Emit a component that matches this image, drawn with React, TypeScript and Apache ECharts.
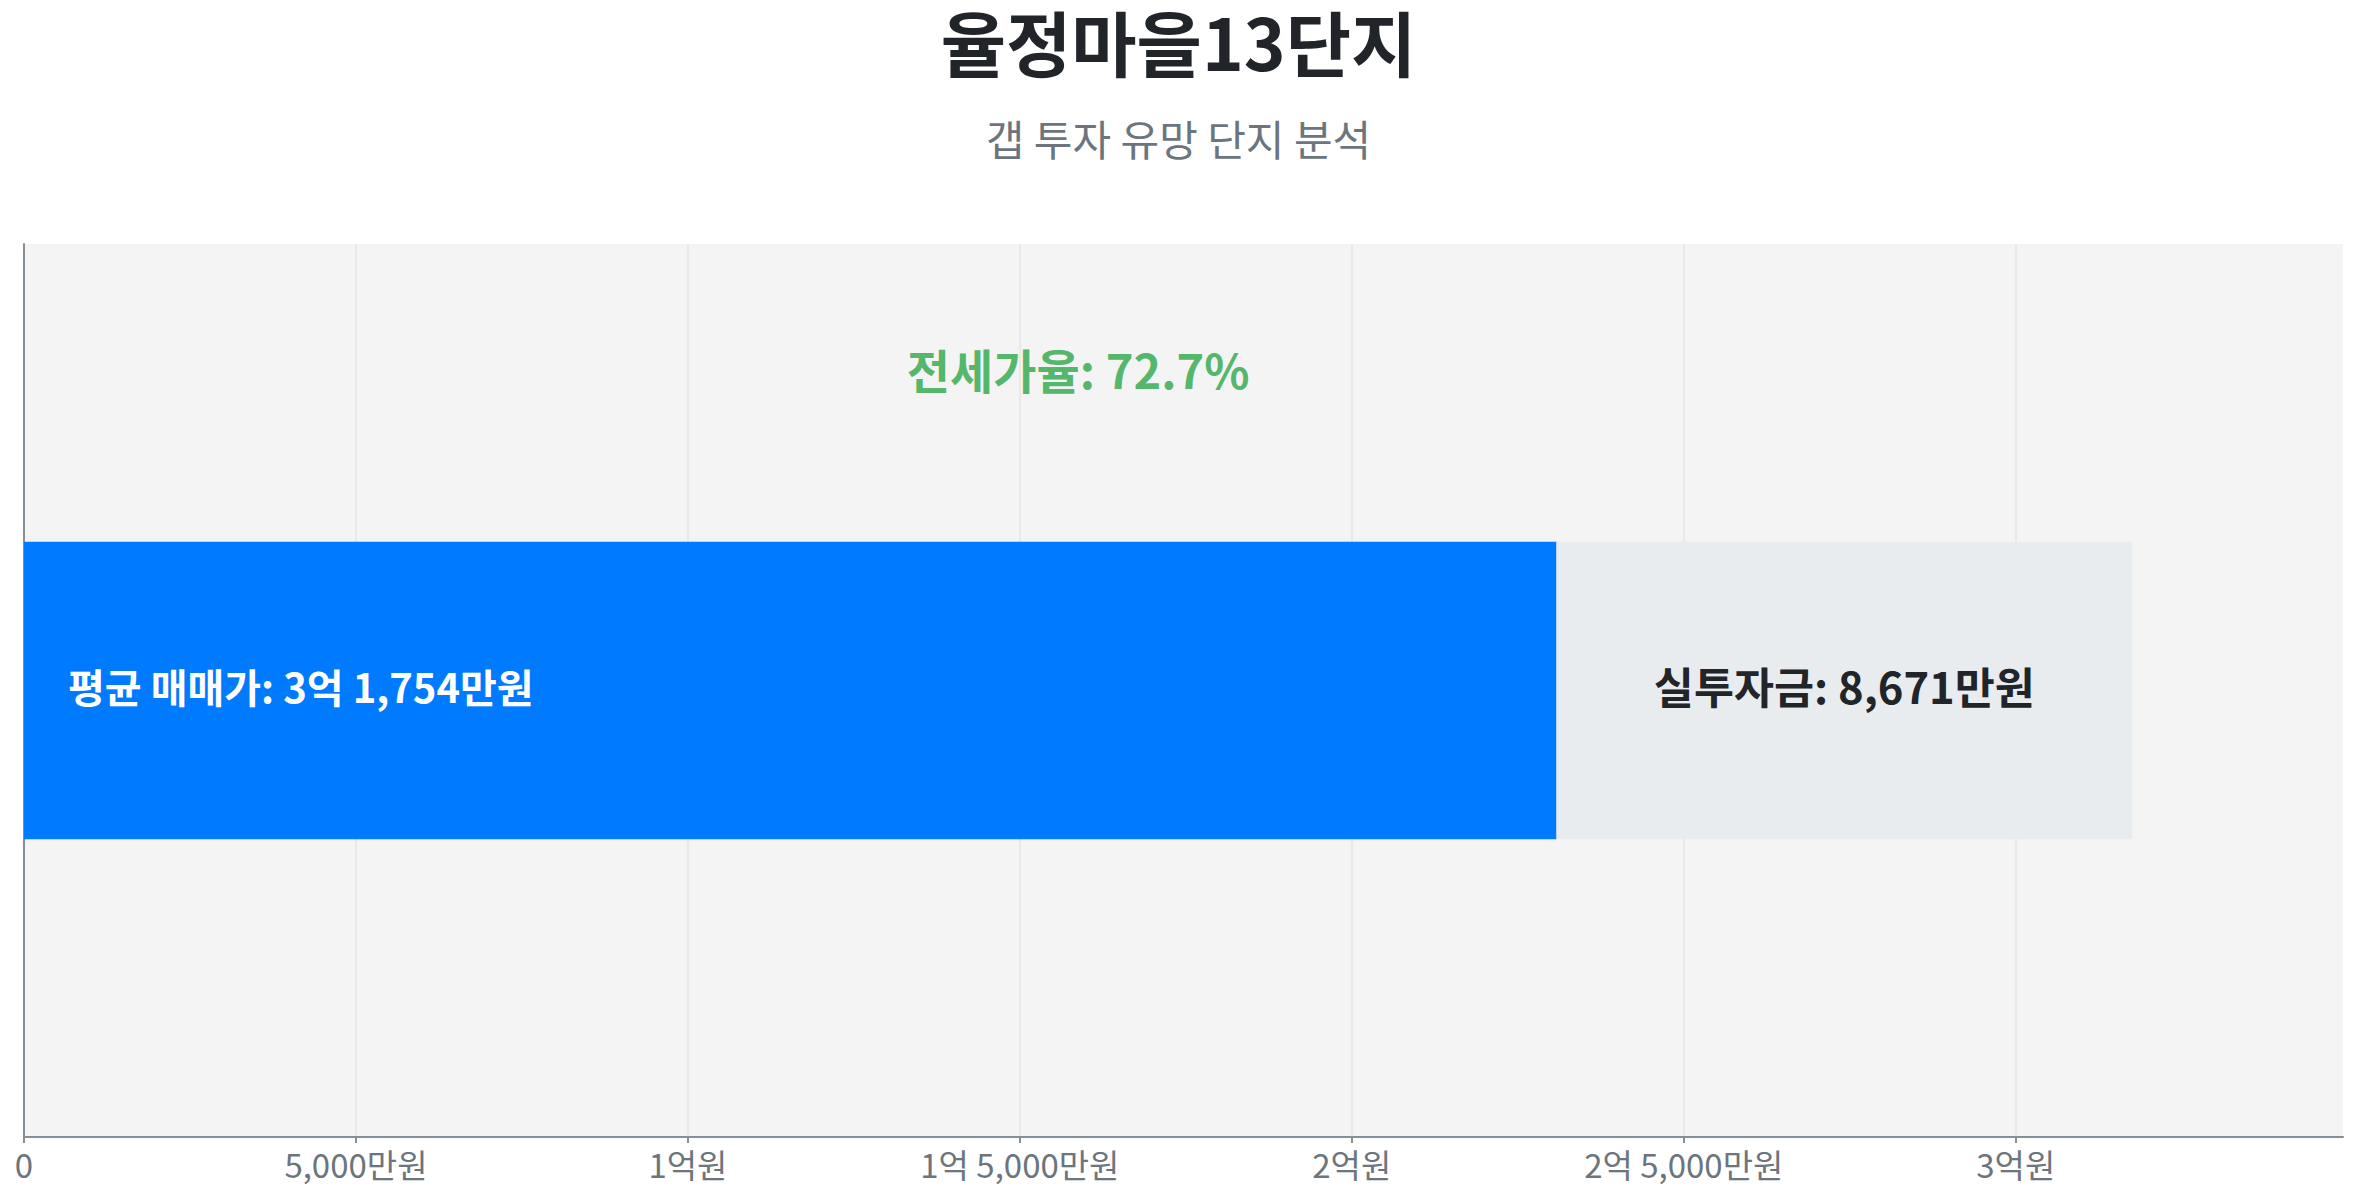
import React, { useEffect, useRef } from "react";
import * as echarts from "echarts";

const titleText = "율정마을13단지";
const subtitleText = "갭 투자 유망 단지 분석";
const categories = ["율정마을13단지"];
const avgPrice = [31754];
const jeonsePrice = [23083];
const gapInvest = [8671];
const jeonseRate = [72.7];
const tickValues = [0, 5000, 10000, 15000, 20000, 25000, 30000];
const tickLabels = ["0", "5,000만원", "1억원", "1억 5,000만원", "2억원", "2억 5,000만원", "3억원"];

const FONT = "'Noto Sans CJK KR', 'Noto Sans', sans-serif";

function fmtMan(v: number): string {
  const eok = Math.floor(v / 10000);
  const man = v % 10000;
  const manStr = man.toLocaleString("en-US");
  if (eok > 0 && man > 0) return `${eok}억 ${manStr}만원`;
  if (eok > 0) return `${eok}억원`;
  return `${manStr}만원`;
}

export default function App() {
  const ref = useRef<HTMLDivElement>(null);
  useEffect(() => {
    document.body.style.margin = "0";
    if (!ref.current) return;
    const chart = echarts.init(ref.current, undefined, { renderer: "svg" });
    const maxVal = avgPrice[0] * 1.1;
    chart.setOption({
      animation: false,
      backgroundColor: "#ffffff",
      textStyle: { fontFamily: FONT },
      title: [
        {
          text: titleText,
          left: "center",
          top: 4,
          padding: 0,
          textStyle: { fontSize: 71, fontWeight: "bold", color: "#212529", fontFamily: FONT, lineHeight: 72 },
        },
        {
          text: subtitleText,
          left: "center",
          top: 112,
          padding: 0,
          textStyle: { fontSize: 42, fontWeight: "normal", color: "#6c757d", fontFamily: FONT, lineHeight: 50 },
        },
      ],
      grid: {
        left: 24,
        right: 14,
        top: 244,
        bottom: 63,
        show: true,
        backgroundColor: "#f4f4f4",
        borderWidth: 0,
      },
      xAxis: {
        type: "value",
        min: 0,
        max: maxVal,
        interval: 5000,
        axisLine: { show: true, lineStyle: { color: "#868e96", width: 2 } },
        axisTick: { show: true, length: 6, lineStyle: { color: "#868e96", width: 2 }, customValues: tickValues },
        splitLine: { show: true, lineStyle: { color: "#e6e6e6", width: 1.5 } },
        axisLabel: {
          customValues: tickValues,
          fontSize: 33,
          color: "#6c757d",
          fontFamily: FONT,
          margin: 10,
          formatter: (v: number) => {
            const i = tickValues.indexOf(v);
            return i >= 0 ? tickLabels[i] : "";
          },
        },
      },
      yAxis: {
        type: "category",
        data: categories,
        axisLine: { show: true, lineStyle: { color: "#868e96", width: 2 } },
        axisTick: { show: false },
        axisLabel: { show: false },
        splitLine: { show: false },
      },
      series: [
        {
          name: "전세가",
          type: "bar",
          stack: "total",
          data: jeonsePrice,
          barWidth: "33.3%",
          itemStyle: { color: "#007bff" },
          label: {
            show: true,
            position: "insideLeft",
            distance: 44,
            offset: [0, -5],
            color: "#ffffff",
            fontSize: 40,
            fontWeight: "bold",
            fontFamily: FONT,
            formatter: () => `평균 매매가: ${fmtMan(avgPrice[0])}`,
          },
        },
        {
          name: "실투자금",
          type: "bar",
          stack: "total",
          data: gapInvest,
          barWidth: "33.3%",
          itemStyle: { color: "#e9ecef" },
          label: {
            show: true,
            position: "inside",
            offset: [0, -5],
            color: "#212529",
            fontSize: 43.5,
            fontWeight: "bold",
            fontFamily: FONT,
            formatter: () => `실투자금: ${fmtMan(gapInvest[0])}`,
          },
        },
        {
          name: "전세가율",
          type: "scatter",
          data: [[avgPrice[0] / 2, categories[0]]],
          symbolSize: 0,
          silent: true,
          label: {
            show: true,
            position: "inside",
            offset: [0, -322],
            color: "#28a745",
            fontSize: 47,
            fontWeight: "bold",
            fontFamily: FONT,
            formatter: () => `전세가율: ${jeonseRate[0]}%`,
          },
        },
      ],
    });
    return () => chart.dispose();
  }, []);
  return <div ref={ref} style={{ position: "fixed", left: 0, top: 0, width: 2357, height: 1200 }} />;
}
